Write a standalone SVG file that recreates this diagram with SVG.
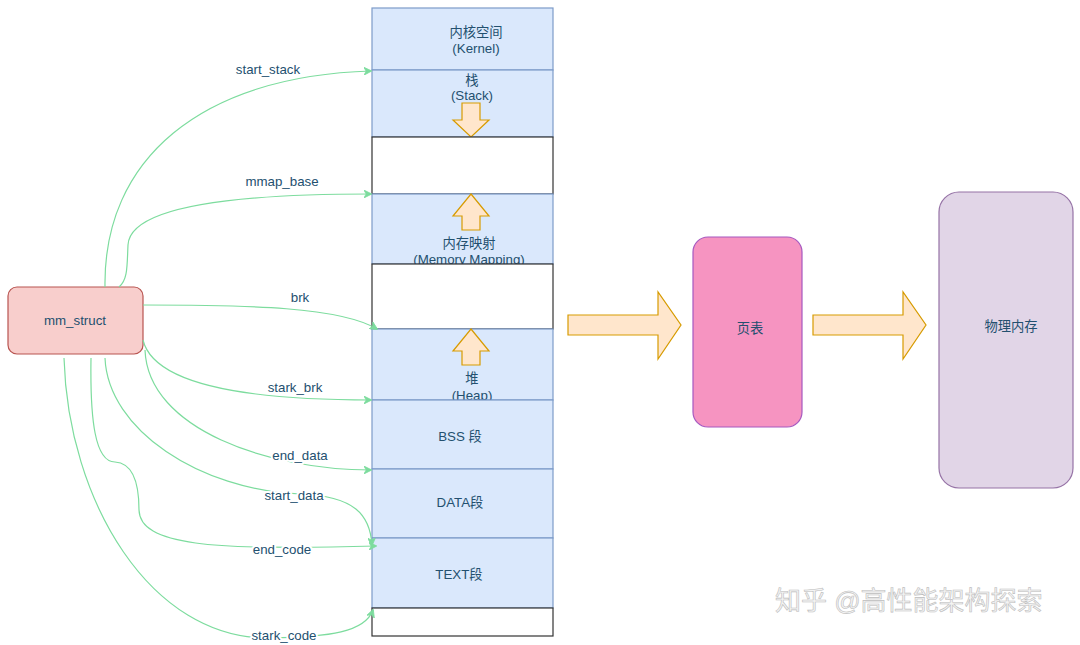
<svg xmlns="http://www.w3.org/2000/svg" width="1080" height="645" viewBox="0 0 1080 645">
<defs>
<style>
text{font-family:"Liberation Sans","Noto Sans CJK SC",sans-serif;font-size:13.3px;fill:#23506f;text-anchor:middle;dominant-baseline:central}
.seg{fill:#dae8fc;stroke:#7d9bc9;stroke-width:1.2}
.gap{fill:#ffffff;stroke:#333333;stroke-width:1.2}
.fat{fill:#ffe6cc;stroke:#d79b00;stroke-width:1.2}
.edge{fill:none;stroke:#7ddc9e;stroke-width:1.2}
.lbl{stroke:#ffffff;stroke-width:4;paint-order:stroke;stroke-linejoin:round}
.wm{font-size:26px;fill:#f4f4f4;stroke:#bdbdbd;stroke-width:0.6;text-anchor:start}
</style>
<marker id="ah" viewBox="0 0 10 10" refX="9" refY="5" markerWidth="8" markerHeight="8" orient="auto" markerUnits="userSpaceOnUse">
<path d="M0,0 L10,5 L0,10 L3,5 Z" fill="#7ddc9e" stroke="#7ddc9e"/>
</marker>
</defs>
<rect width="1080" height="645" fill="#ffffff"/>

<g id="memory">
<g id="kernel"><rect class="seg" x="372" y="8" width="181" height="62"/><text x="476" y="32">内核空间</text><text x="476" y="48">(Kernel)</text></g>
<g id="stack"><rect class="seg" x="372" y="70" width="181" height="67"/><text x="472" y="80">栈</text><text x="472" y="95">(Stack)</text>
<path class="fat" d="M462,103 H480 V120 H489 L471,137 L453,120 H462 Z"/></g>
<g id="gap1"><rect class="gap" x="372" y="137" width="181" height="57"/></g>
<g id="mmap"><rect class="seg" x="372" y="194" width="181" height="70"/>
<path class="fat" d="M471,194 L489,216 H480 V230 H462 V216 H453 Z"/>
<text x="469" y="243">内存映射</text><text x="469" y="259">(Memory Mapping)</text></g>
<g id="gap2"><rect class="gap" x="372" y="264" width="181" height="65"/></g>
<g id="heap"><rect class="seg" x="372" y="329" width="181" height="71"/>
<path class="fat" d="M471,329 L489,351 H480 V365 H462 V351 H453 Z"/>
<text x="472" y="378">堆</text><text x="472" y="395">(Heap)</text></g>
<g id="bss"><rect class="seg" x="372" y="400" width="181" height="69"/><text x="460" y="436">BSS 段</text></g>
<g id="data"><rect class="seg" x="372" y="469" width="181" height="69"/><text x="460" y="502">DATA段</text></g>
<g id="textseg"><rect class="seg" x="372" y="538" width="181" height="70"/><text x="459" y="574">TEXT段</text></g>
<g id="gap3"><rect class="gap" x="372" y="608" width="181" height="28"/></g>
</g>

<g id="mm_struct"><rect x="8" y="287" width="135" height="67" rx="9" fill="#f8cecc" stroke="#b85450" stroke-width="1.2"/><text x="75" y="320">mm_struct</text></g>

<g id="pagetable"><rect x="693" y="237" width="109" height="190" rx="15" fill="#f694c1" stroke="#a659c0" stroke-width="1.2"/><text x="750" y="328">页表</text></g>
<g id="physmem"><rect x="939" y="192" width="134" height="296" rx="20" fill="#e1d5e7" stroke="#9673a6" stroke-width="1.2"/><text x="1011" y="326">物理内存</text></g>

<g id="bigarrows">
<path class="fat" d="M568,315 H658 V292 L681,325 L658,359 V335 H568 Z"/>
<path class="fat" d="M813,315 H903 V292 L926,325 L903,359 V335 H813 Z"/>
</g>

<g id="connectors">
<path class="edge" marker-end="url(#ah)" d="M105,287 C103,160 200,76 371,71"/>
<path class="edge" marker-end="url(#ah)" d="M119,287 C128,280 127,265 128,245 C130,205 240,194 371,194"/>
<path class="edge" marker-end="url(#ah)" d="M143,305 C250,305 340,307 377,329"/>
<path class="edge" marker-end="url(#ah)" d="M143,340 C155,390 270,400 371,400"/>
<path class="edge" marker-end="url(#ah)" d="M145,350 C148,430 270,470 371,470"/>
<path class="edge" marker-end="url(#ah)" d="M105,358 C108,430 200,490 300,494 C355,496 370,515 372,545"/>
<path class="edge" marker-end="url(#ah)" d="M91,358 C90,420 95,462 115,462 C132,463 139,480 139,510 C140,545 210,551 376,546"/>
<path class="edge" marker-end="url(#ah)" d="M64,358 C68,500 150,640 270,638 C330,637 365,632 373,610"/>
</g>
<g id="edge-labels">
<text class="lbl" x="268" y="69">start_stack</text>
<text class="lbl" x="282" y="181">mmap_base</text>
<text class="lbl" x="300" y="297">brk</text>
<text class="lbl" x="295" y="387">stark_brk</text>
<text class="lbl" x="300" y="455">end_data</text>
<text class="lbl" x="294" y="495">start_data</text>
<text class="lbl" x="282" y="549">end_code</text>
<text class="lbl" x="284" y="635">stark_code</text>
</g>
<text class="wm" x="775" y="601">知乎 @高性能架构探索</text>
</svg>
